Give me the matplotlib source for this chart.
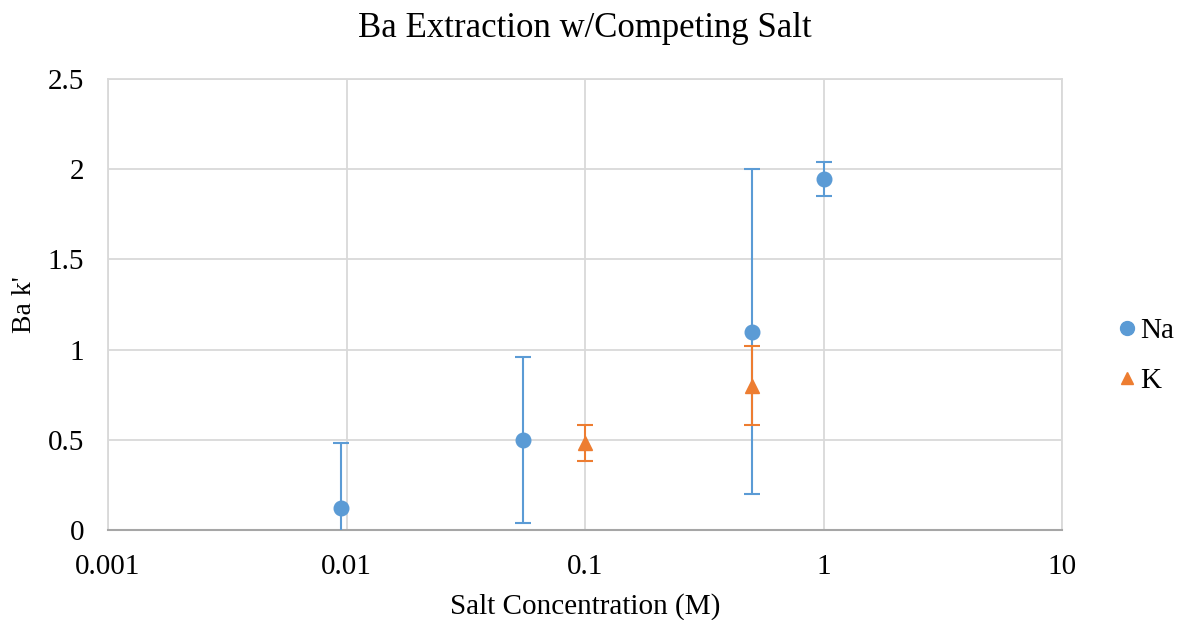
import numpy as np
import matplotlib.pyplot as plt
from matplotlib.lines import Line2D

plt.rcParams["font.family"] = ["Liberation Serif", "DejaVu Serif"]

# Na series
na_x = [0.0095, 0.055, 0.5, 1.0]
na_y = [0.12, 0.50, 1.10, 1.945]
na_err = [0.36, 0.46, 0.90, 0.095]

# K series
k_x = [0.1, 0.5]
k_y = [0.48, 0.80]
k_err = [0.10, 0.22]

BLUE = "#5B9BD5"
ORANGE = "#ED7D31"
GRID = "#D9D9D9"

fig = plt.figure(figsize=(11.78, 6.2), dpi=100)
ax = fig.add_axes([108 / 1178, 1 - 530 / 620, (1062 - 108) / 1178, (530 - 79) / 620])

ax.errorbar(na_x, na_y, yerr=na_err, fmt="o", color=BLUE, ms=10.5,
            ecolor=BLUE, elinewidth=1.5, capsize=6, capthick=1.5, zorder=3)
ax.errorbar(k_x, k_y, yerr=k_err, fmt="^", color=ORANGE, ms=10.5,
            ecolor=ORANGE, elinewidth=1.5, capsize=6, capthick=1.5, zorder=4)

ax.set_xscale("log")
ax.set_xlim(0.001, 10)
ax.set_ylim(0, 2.5)
ax.set_xticks([0.001, 0.01, 0.1, 1, 10])
ax.set_xticklabels(["0.001", "0.01", "0.1", "1", "10"])
ax.set_yticks([0, 0.5, 1, 1.5, 2, 2.5])
ax.set_yticklabels(["0", "0.5", "1", "1.5", "2", "2.5"])
ax.minorticks_off()
ax.tick_params(length=0, labelsize=21)
ax.tick_params(axis="x", pad=17)
ax.tick_params(axis="y", pad=17)

ax.grid(True, color=GRID, linewidth=1.3)
ax.set_axisbelow(True)
for side in ["top", "left", "right"]:
    ax.spines[side].set_color(GRID)
    ax.spines[side].set_linewidth(1.3)
ax.spines["bottom"].set_color("#A6A6A6")
ax.spines["bottom"].set_linewidth(1.5)

ax.set_xlabel("Salt Concentration (M)", fontsize=21, labelpad=10)
ax.set_ylabel("Ba k'", fontsize=20, labelpad=8)
ax.set_title("Ba Extraction w/Competing Salt", fontsize=25, pad=30)

handles = [
    Line2D([], [], linestyle="none", marker="o", color=BLUE, ms=10),
    Line2D([], [], linestyle="none", marker="^", color=ORANGE, ms=9),
]
ax.legend(handles, ["Na", "K"], loc="center left", bbox_to_anchor=(1.03, 0.386),
          frameon=False, fontsize=21, handlelength=0.7, handletextpad=0.1,
          labelspacing=0.8)

fig.savefig("out.png", dpi=100)
